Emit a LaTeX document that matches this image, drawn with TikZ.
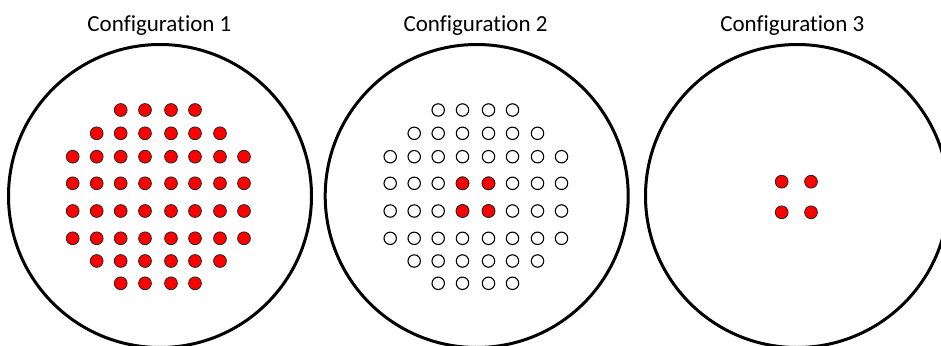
\documentclass[tikz,border=0pt]{standalone}
\usepackage{fontspec}
\setmainfont{Carlito}[Ligatures={NoCommon}]
\begin{document}
\begin{tikzpicture}[x=1pt,y=-1pt,
  ring/.style={line width=3pt, draw=black},
  reddot/.style={fill=red, draw=black!85, line width=0.8pt},
  emptydot/.style={fill=white, draw=black, line width=1.1pt},
  title/.style={font=\fontsize{23}{28}\selectfont, anchor=base, inner sep=0pt}]
\useasboundingbox (0,0) rectangle (941,345);
% titles
\node[title] (t1) at (159.4,31.7) {Configuration 1};
\node[title] (t2) at (475.5,31.7) {Configuration 2};
\node[title] (t3) at (792.3,31.7) {Configuration 3};
% outer rings
\draw[ring] (160,196) circle[radius=151.5];
\draw[ring] (476.7,196) circle[radius=151.5];
\draw[ring] (797,196) circle[radius=151.5];
% dot grids
\foreach \r/\a/\b in {0/2/5,1/1/6,2/0/7,3/0/7,4/0/7,5/0/7,6/1/6,7/2/5} {
  \foreach \c in {\a,...,\b} {
    \pgfmathsetmacro\xx{{72.7,96.7,120.7,145,171,195,220,244}[\c]}
    \pgfmathsetmacro\yy{{110,133.3,156.7,183.3,211,238.3,261,283.3}[\r]}
    \draw[reddot] (\xx,\yy) circle[radius=6.4];
    \draw[emptydot] (\xx+317.5,\yy) circle[radius=6.2];
  }
}
% red dots in configuration 2
\foreach \xx in {462.5,488.5} {
  \foreach \yy in {183.3,211} {
    \draw[reddot] (\xx,\yy) circle[radius=6.4];
  }
}
% configuration 3
\foreach \xx in {781.7,811} {
  \foreach \yy in {181.7,212.3} {
    \draw[reddot] (\xx,\yy) circle[radius=6.4];
  }
}
\end{tikzpicture}
\end{document}
